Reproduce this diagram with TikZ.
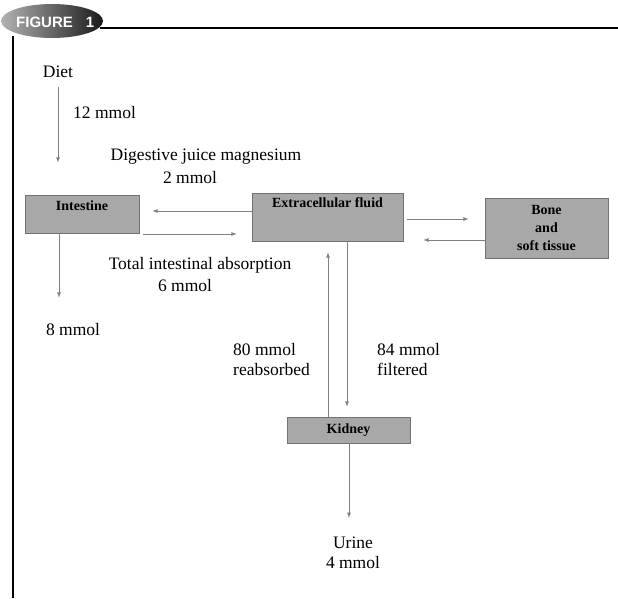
\documentclass[tikz,border=0pt]{standalone}
\usepackage{fontspec}
\setmainfont{Liberation Serif}
\newfontfamily\badgefont{Liberation Sans}
\usetikzlibrary{shapes,arrows}
\definecolor{boxgray}{HTML}{A8A8A8}

\begin{document}
\begin{tikzpicture}[x=1pt,y=-1pt]
 \tikzset{box node/.style={rectangle, draw=black!55, fill=boxgray, line width=0.8pt,
 		font=\fontsize{14}{16}\selectfont\bfseries, inner sep=3pt, text centered}, }
 \tikzset{txt node/.style={font=\fontsize{17.5}{20}\selectfont, inner sep=0pt}, }
 \tikzset{linea/.style={-latex, draw=black!50, line width=0.8pt},}
 \useasboundingbox (0,0) rectangle (618,598);
 % frame and badge
 \draw[line width=2pt] (100,28) -- (618,28);
 \draw[line width=2pt] (13,36) -- (13,598);
 \shade[left color=black!30, right color=black!90] (52,21) ellipse (51 and 17);
 \node[anchor=west, text=white, inner sep=0pt,
 	font=\badgefont\bfseries\fontsize{15}{15}\selectfont] (0) at (16,22) {FIGURE\hspace{13pt}1};
 % boxes
 \node[box node, minimum width=114pt, text height=12pt, text depth=20pt] (1) at (82,214) {Intestine};
 \node[box node, minimum width=151pt, text height=11pt, text depth=31pt] (2) at (327.5,217) {Extracellular fluid};
 \node[box node, minimum width=123pt, minimum height=60pt, align=center,
 	font=\fontsize{14}{18}\selectfont\bfseries] (3) at (546.5,228) {Bone\\and\\soft tissue};
 \node[box node, minimum width=123pt, minimum height=26pt] (4) at (348.5,430) {Kidney};
 % texts
 \node[txt node] (5) at (58,72) {Diet};
 \node[txt node, anchor=west] (6) at (73,113) {12 mmol};
 \node[txt node] (7) at (206,157) {Digestive juice magnesium};
 \node[txt node] (8) at (190,178) {2 mmol};
 \node[txt node] (9) at (200,265) {Total intestinal absorption};
 \node[txt node] (10) at (185,286) {6 mmol};
 \node[txt node] (11) at (73,330) {8 mmol};
 \node[txt node, anchor=west, align=left] (12) at (233,359.5) {80 mmol\\reabsorbed};
 \node[txt node, anchor=west, align=left] (13) at (377,359.5) {84 mmol\\filtered};
 \node[txt node, align=center] (14) at (353,553) {Urine\\4 mmol};
 % arrows
 \draw[linea, shorten <=9pt, shorten >=32pt] (5.south) -- (5.south |- 1.north);
 \draw[linea, shorten >=26pt] (1.south -| 59,0) -- (11.north -| 59,0);
 \foreach \x/\y/\h/\a/\b in {2.west/1.east/211/0/13, 1.east/2.west/234/4/15,
 	2.east/3.west/219/4/16, 3.west/2.east/240/0/20}
 \draw[linea, shorten <=\a pt, shorten >=\b pt] (\x |- 0,\h) -- (\y |- 0,\h);
 \draw[linea, shorten >=11pt] (4.north -| 328,0) -- (2.south -| 328,0);
 \draw[linea, shorten >=10pt] (2.south -| 347,0) -- (4.north -| 347,0);
 \draw[linea, shorten >=19pt] (4.south -| 349,0) -- (14.north -| 349,0);
\end{tikzpicture}
\end{document}
